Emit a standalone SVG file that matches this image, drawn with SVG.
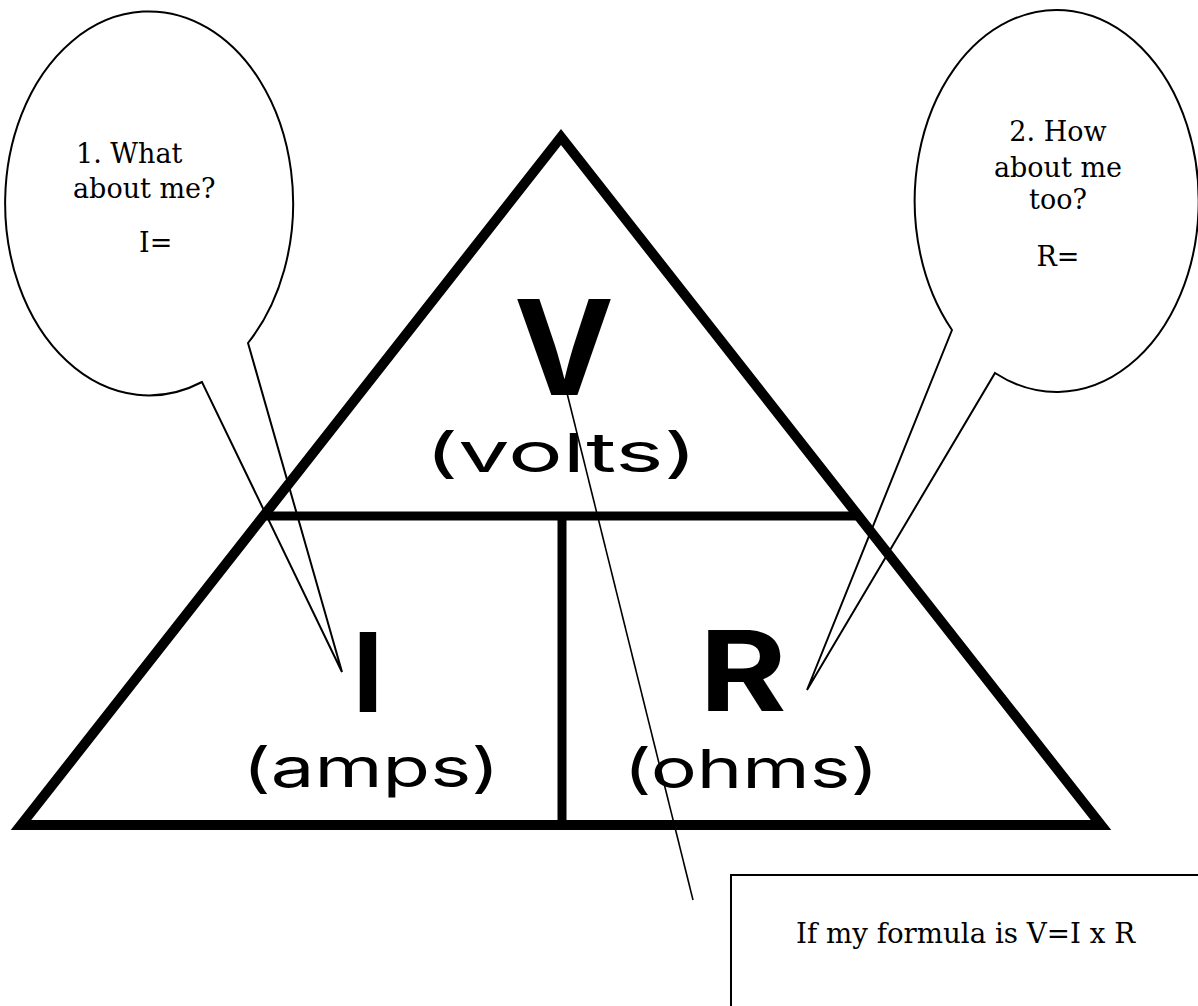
<svg xmlns="http://www.w3.org/2000/svg" width="1198" height="1006" viewBox="0 0 1198 1006">
<style>
.tri{fill:none;stroke:#000;stroke-width:10;stroke-linejoin:miter;stroke-miterlimit:10}
.bar{stroke:#000;stroke-width:9}
.big{font-family:Inter,"Liberation Sans",sans-serif;font-weight:700;fill:#000}
.unit{font-family:Inter,"Liberation Sans",sans-serif;font-weight:400;font-size:54px;fill:#000}
.bub{fill:none;stroke:#000;stroke-width:2;stroke-linejoin:miter}
.ser{font-family:"DejaVu Serif","Liberation Serif",serif;font-size:27px;fill:#000}
.thin{stroke:#000;stroke-width:1.6;fill:none}
</style>
<rect width="1198" height="1006" fill="#fff"/>
<g id="triangle">
<polygon class="tri" points="561,137 21,825 1101,825"/>
<line class="bar" x1="263" y1="516" x2="859" y2="516"/>
<line class="bar" x1="562" y1="516" x2="562" y2="825"/>
</g>
<g id="node-V">
<text class="big" x="564" y="395" font-size="132" text-anchor="middle" textLength="100" lengthAdjust="spacingAndGlyphs">V</text>
<text class="unit" x="561" y="472" text-anchor="middle" textLength="272" lengthAdjust="spacingAndGlyphs">(volts)</text>
</g>
<g id="node-I">
<text class="big" x="368" y="712" font-size="110" text-anchor="middle">I</text>
<text class="unit" x="371" y="787" text-anchor="middle" textLength="257" lengthAdjust="spacingAndGlyphs">(amps)</text>
</g>
<g id="node-R">
<text class="big" x="743" y="711" font-size="112" text-anchor="middle" textLength="87" lengthAdjust="spacingAndGlyphs">R</text>
<text class="unit" x="751" y="788" text-anchor="middle" textLength="255" lengthAdjust="spacingAndGlyphs">(ohms)</text>
</g>
<g id="bubble-1">
<path class="bub" d="M248,343 L342,672 L202,382 A144,192 0 1 1 248,343 Z"/>
<text class="ser" x="76" y="163">1. What</text>
<text class="ser" x="73" y="198">about me?</text>
<text class="ser" x="139" y="252">I=</text>
</g>
<g id="bubble-2">
<path class="bub" d="M952,330 L807,690 L995,373 A142,191 0 1 0 952,330 Z"/>
<text class="ser" x="1058" y="141" text-anchor="middle">2. How</text>
<text class="ser" x="1058" y="177" text-anchor="middle">about me</text>
<text class="ser" x="1058" y="209" text-anchor="middle">too?</text>
<text class="ser" x="1058" y="266" text-anchor="middle">R=</text>
</g>
<g id="textbox">
<rect x="731" y="875" width="480" height="200" fill="none" stroke="#000" stroke-width="2"/>
<text class="ser" x="796" y="943" textLength="339" lengthAdjust="spacingAndGlyphs">If my formula is V=I x R</text>
</g>
<g id="connectors">
<line class="thin" x1="567" y1="393" x2="693" y2="900"/>
</g>
</svg>
